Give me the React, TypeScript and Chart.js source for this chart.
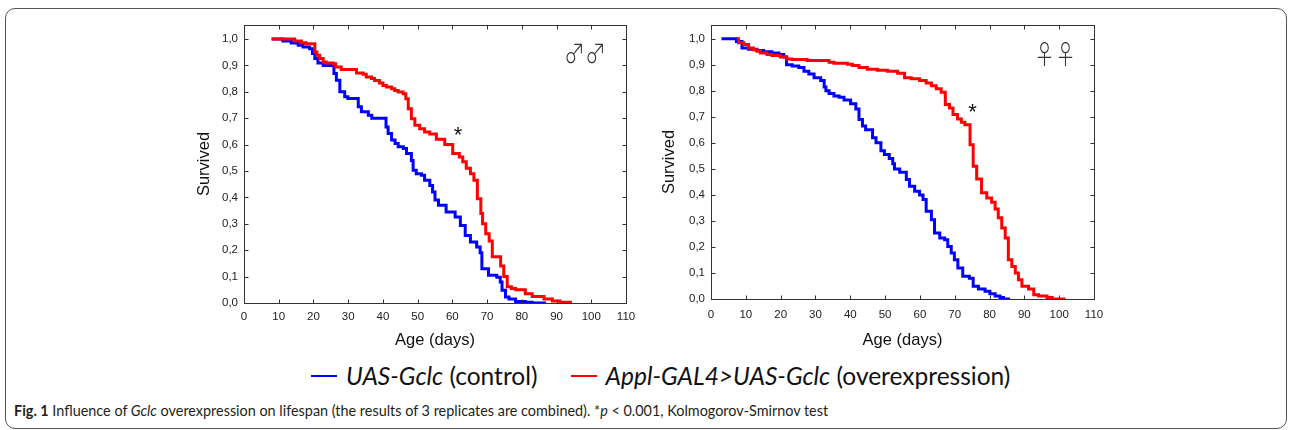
import React, { useEffect, useRef } from 'react';
import { Chart, registerables } from 'chart.js';

Chart.register(...registerables);

// ---------- data ----------
const X_MIN = 0;
const X_MAX = 110;
const X_STEP = 10;
const Y_MIN = 0;
const Y_MAX = 1.053;
const Y_STEP = 0.1;

const X_TITLE = 'Age (days)';
const Y_TITLE = 'Survived';
const SERIES_CONTROL = 'UAS-Gclc (control)';
const SERIES_OVER = 'Appl-GAL4>UAS-Gclc (overexpression)';

const MALE_SYMBOL = '\u2642\u2642';
const FEMALE_SYMBOL = '\u2640\u2640';

// males, control (blue)
const MALE_CONTROL_AGE = [8, 11.2, 13.6, 15.6, 17, 18.9, 19.7, 20.4, 21.3, 22.8, 25.9, 26.6, 27.6, 29, 29.9, 32.9, 33.8, 35.8, 36.8, 40.9, 41.5, 42.5, 43.5, 44.4, 45.9, 46.8, 48.2, 48.7, 49.6, 51.1, 52, 53.5, 54.3, 55, 56, 58.2, 60.8, 62.3, 63.7, 65.2, 67, 68, 68.5, 70.4, 72.8, 73.8, 74.3, 75.3, 76.3, 78.2, 81, 83, 87];
const MALE_CONTROL_SURV = [1.0, 0.992, 0.985, 0.976, 0.97, 0.963, 0.945, 0.926, 0.909, 0.9, 0.869, 0.844, 0.8, 0.781, 0.775, 0.743, 0.724, 0.711, 0.7, 0.667, 0.642, 0.617, 0.604, 0.592, 0.585, 0.566, 0.54, 0.503, 0.49, 0.484, 0.465, 0.445, 0.42, 0.39, 0.37, 0.345, 0.326, 0.294, 0.256, 0.231, 0.212, 0.19, 0.13, 0.105, 0.098, 0.08, 0.048, 0.023, 0.015, 0.006, 0.003, 0.0, 0.0];

// males, overexpression (red)
const MALE_OVER_AGE = [7.9, 14.6, 16.5, 17.9, 20.4, 21, 21.8, 22.8, 23.7, 25.7, 26.4, 28, 32.4, 34.3, 35.2, 36.7, 37.6, 39, 40, 41, 42.5, 43.4, 44.4, 45.8, 46.6, 47.3, 48.2, 49.2, 50.6, 52, 53.5, 55.4, 57.8, 60.1, 62, 63, 64, 65.2, 66.2, 67.2, 68.2, 68.7, 69.6, 70.6, 71.5, 73.9, 74.8, 75.8, 77, 78.2, 81, 83, 86.4, 88.8, 91, 94];
const MALE_OVER_SURV = [1.0, 0.992, 0.986, 0.982, 0.951, 0.938, 0.926, 0.913, 0.909, 0.906, 0.894, 0.884, 0.871, 0.866, 0.856, 0.85, 0.843, 0.833, 0.824, 0.818, 0.812, 0.805, 0.799, 0.793, 0.774, 0.736, 0.698, 0.673, 0.66, 0.648, 0.64, 0.62, 0.6, 0.566, 0.553, 0.535, 0.51, 0.49, 0.465, 0.395, 0.339, 0.3, 0.262, 0.235, 0.175, 0.14, 0.1, 0.062, 0.055, 0.05, 0.035, 0.025, 0.015, 0.008, 0.003, 0.0];

// females, control (blue)
const FEMALE_CONTROL_AGE = [3, 7.3, 8.9, 10.8, 13.2, 15.1, 17.5, 19.5, 20.9, 21.7, 23.3, 25.2, 26.7, 28.1, 29.6, 31.5, 32.5, 33, 33.9, 35.3, 36.8, 38.2, 40.1, 41.6, 42.5, 43.5, 44.4, 46.4, 47.4, 48.8, 49.8, 51.2, 52.2, 52.7, 54.2, 56.1, 57, 58.5, 59.9, 60.9, 61.8, 63.3, 64.2, 65.7, 67.1, 68, 69, 69.9, 70.9, 72.3, 74.2, 75.3, 76.8, 78.7, 80.1, 81.6, 83, 84, 85.9];
const FEMALE_CONTROL_SURV = [1.0, 0.99, 0.965, 0.96, 0.955, 0.95, 0.945, 0.94, 0.93, 0.9, 0.895, 0.89, 0.875, 0.865, 0.85, 0.84, 0.815, 0.8, 0.79, 0.78, 0.775, 0.765, 0.75, 0.73, 0.69, 0.665, 0.65, 0.62, 0.6, 0.57, 0.555, 0.54, 0.52, 0.5, 0.487, 0.459, 0.433, 0.414, 0.4, 0.382, 0.337, 0.305, 0.254, 0.234, 0.228, 0.202, 0.177, 0.151, 0.119, 0.087, 0.08, 0.049, 0.038, 0.03, 0.02, 0.012, 0.006, 0.0, 0.0];

// females, overexpression (red)
const FEMALE_OVER_AGE = [7.4, 7.9, 9.4, 10.8, 12.2, 13.2, 14.2, 16.1, 17.5, 19.9, 21.8, 23.3, 27.6, 33.9, 35.3, 39.2, 40.6, 42.5, 44.9, 47.8, 50.7, 53.6, 55.6, 57.5, 59.9, 61.8, 63.3, 64.7, 66.1, 67.3, 68.5, 69.5, 70.8, 71.9, 72.9, 74.4, 75.3, 76.3, 77.7, 79.2, 80.6, 81.6, 82.5, 83.5, 84.5, 85.4, 86.4, 87.4, 88.3, 89.3, 91.2, 92.7, 94.1, 96.5, 98, 101.8];
const FEMALE_OVER_SURV = [1.0, 0.985, 0.978, 0.965, 0.958, 0.952, 0.945, 0.94, 0.936, 0.93, 0.922, 0.92, 0.917, 0.91, 0.906, 0.902, 0.897, 0.89, 0.883, 0.879, 0.875, 0.868, 0.85, 0.846, 0.84, 0.83, 0.82, 0.808, 0.795, 0.747, 0.734, 0.709, 0.692, 0.679, 0.67, 0.593, 0.51, 0.461, 0.408, 0.388, 0.372, 0.346, 0.312, 0.273, 0.234, 0.151, 0.125, 0.1, 0.074, 0.049, 0.038, 0.016, 0.012, 0.006, 0.0, 0.0];

// annotation anchors in data units (age, survival)
const MALE_SYMBOL_AT = [98.2, 0.946];
const FEMALE_SYMBOL_AT = [98.8, 0.94];
const MALE_STAR_AT = [61.6, 0.631];
const FEMALE_STAR_AT = [75.1, 0.714];

const BLUE = '#0000ff';
const RED = '#ff0000';
const AXIS_FONT = '"Liberation Sans", Arial, sans-serif';

const toPoints = (ages: number[], surv: number[]) => ages.map((a, i) => ({ x: a, y: surv[i] }));

const framePlugin = {
  id: 'statFrame',
  afterDatasetsDraw(chart: any, _args: any, opts: any) {
    const { ctx, chartArea: a, scales } = chart;
    const xs = scales.x;
    const ys = scales.y;
    ctx.save();
    ctx.strokeStyle = '#333';
    ctx.lineWidth = 1;
    const L = Math.round(a.left) + 0.5;
    const T = Math.round(a.top) + 0.5;
    const R = Math.round(a.right) + 0.5;
    const B = Math.round(a.bottom) + 0.5;
    ctx.strokeRect(L, T, R - L, B - T);
    const tl = 4;
    ctx.beginPath();
    for (const t of xs.ticks) {
      const p = Math.round(xs.getPixelForValue(t.value)) + 0.5;
      ctx.moveTo(p, B);
      ctx.lineTo(p, B - tl);
      ctx.moveTo(p, T);
      ctx.lineTo(p, T + tl);
    }
    for (const t of ys.ticks) {
      const p = Math.round(ys.getPixelForValue(t.value)) + 0.5;
      ctx.moveTo(L, p);
      ctx.lineTo(L + tl, p);
      ctx.moveTo(R, p);
      ctx.lineTo(R - tl, p);
    }
    ctx.stroke();
    if (opts && opts.symbol) {
      ctx.save();
      ctx.translate(xs.getPixelForValue(opts.symbolAt[0]), ys.getPixelForValue(opts.symbolAt[1]));
      ctx.scale(1, 1.22);
      ctx.font = '300 21px "Noto Sans CJK JP", "DejaVu Sans"';
      ctx.fillStyle = '#333';
      ctx.textAlign = 'center';
      ctx.textBaseline = 'middle';
      ctx.fillText(opts.symbol, 0, 0);
      ctx.restore();
    }
    if (opts && opts.starAt) {
      ctx.font = '22px ' + AXIS_FONT;
      ctx.fillStyle = '#111';
      ctx.textAlign = 'center';
      ctx.textBaseline = 'middle';
      ctx.fillText('*', xs.getPixelForValue(opts.starAt[0]), ys.getPixelForValue(opts.starAt[1]));
    }
    ctx.restore();
  },
};

type PanelProps = {
  left: number;
  top: number;
  width: number;
  height: number;
  yAxisWidth: number;
  xAxisHeight: number;
  xTickPad: number;
  controlAge: number[];
  controlSurv: number[];
  overAge: number[];
  overSurv: number[];
  symbol: string;
  symbolAt: number[];
  starAt: number[];
};

function Panel(p: PanelProps) {
  const ref = useRef<HTMLCanvasElement>(null);
  useEffect(() => {
    if (!ref.current) return;
    const chart = new Chart(ref.current, {
      type: 'line',
      data: {
        datasets: [
          {
            label: SERIES_CONTROL,
            data: toPoints(p.controlAge, p.controlSurv),
            borderColor: BLUE,
            backgroundColor: BLUE,
            borderWidth: 3,
            pointRadius: 0,
            stepped: 'before',
            fill: false,
            order: 1,
          },
          {
            label: SERIES_OVER,
            data: toPoints(p.overAge, p.overSurv),
            borderColor: RED,
            backgroundColor: RED,
            borderWidth: 3,
            pointRadius: 0,
            stepped: 'before',
            fill: false,
            order: 0,
          },
        ],
      },
      options: {
        animation: false,
        responsive: false,
        maintainAspectRatio: false,
        devicePixelRatio: 1,
        layout: { padding: { top: 15, right: 10, left: 0, bottom: 0 } },
        plugins: {
          legend: { display: false },
          tooltip: { enabled: false },
          statFrame: { symbol: p.symbol, symbolAt: p.symbolAt, starAt: p.starAt },
        } as any,
        scales: {
          x: {
            type: 'linear',
            min: X_MIN,
            max: X_MAX,
            grid: { display: false, drawTicks: false },
            border: { display: false },
            ticks: {
              stepSize: X_STEP,
              autoSkip: false,
              maxRotation: 0,
              padding: p.xTickPad,
              color: '#222',
              font: { family: AXIS_FONT, size: 11.5 },
              callback: (v: any) => String(v),
            },
            title: {
              display: true,
              text: X_TITLE,
              color: '#111',
              font: { family: AXIS_FONT, size: 16.5 },
              padding: { top: 4, bottom: 4 },
            },
            afterFit: (s: any) => {
              s.height = p.xAxisHeight;
              s.paddingLeft = 0;
              s.paddingRight = 0;
            },
          },
          y: {
            type: 'linear',
            min: Y_MIN,
            max: Y_MAX,
            grid: { display: false, drawTicks: false },
            border: { display: false },
            ticks: {
              stepSize: Y_STEP,
              includeBounds: false,
              autoSkip: false,
              padding: 6,
              color: '#222',
              font: { family: AXIS_FONT, size: 11.5 },
              callback: (v: any) => Number(v).toFixed(1).replace('.', ','),
            },
            title: {
              display: true,
              text: Y_TITLE,
              color: '#111',
              font: { family: AXIS_FONT, size: 16.5 },
              padding: { top: 4, bottom: 4 },
            },
            afterFit: (s: any) => {
              s.width = p.yAxisWidth;
              s.paddingTop = 0;
              s.paddingBottom = 0;
            },
          },
        },
      } as any,
      plugins: [framePlugin],
    });
    return () => chart.destroy();
  }, []);
  return (
    <div style={{ position: 'absolute', left: p.left, top: p.top, width: p.width, height: p.height }}>
      <canvas ref={ref} width={p.width} height={p.height} style={{ display: 'block' }} />
    </div>
  );
}

function LegendItem({ color, italic, rest }: { color: string; italic: string; rest: string }) {
  return (
    <span style={{ display: 'inline-flex', alignItems: 'center' }}>
      <span style={{ display: 'inline-block', width: 26, height: 2, background: color, marginRight: 9 }} />
      <span>
        <i>{italic}</i>
        {rest}
      </span>
    </span>
  );
}

export default function App() {
  const [ctrlItalic, ctrlRest] = [SERIES_CONTROL.split(' ')[0], ' ' + SERIES_CONTROL.split(' ').slice(1).join(' ')];
  const [overItalic, overRest] = [SERIES_OVER.split(' ')[0], ' ' + SERIES_OVER.split(' ').slice(1).join(' ')];
  return (
    <div style={{ position: 'fixed', left: 0, top: 0, width: 1290, height: 430, background: '#fff', overflow: 'hidden' }}>
      <div
        style={{
          position: 'absolute',
          left: 5,
          top: 8,
          width: 1282,
          height: 421,
          boxSizing: 'border-box',
          border: '1.5px solid #555',
          borderRadius: 10,
        }}
      />
      <Panel
        left={191}
        top={10}
        width={445}
        height={344}
        yAxisWidth={53}
        xAxisHeight={51}
        xTickPad={7}
        controlAge={MALE_CONTROL_AGE}
        controlSurv={MALE_CONTROL_SURV}
        overAge={MALE_OVER_AGE}
        overSurv={MALE_OVER_SURV}
        symbol={MALE_SYMBOL}
        symbolAt={MALE_SYMBOL_AT}
        starAt={MALE_STAR_AT}
      />
      <Panel
        left={656}
        top={10}
        width={448}
        height={344}
        yAxisWidth={55}
        xAxisHeight={55}
        xTickPad={9}
        controlAge={FEMALE_CONTROL_AGE}
        controlSurv={FEMALE_CONTROL_SURV}
        overAge={FEMALE_OVER_AGE}
        overSurv={FEMALE_OVER_SURV}
        symbol={FEMALE_SYMBOL}
        symbolAt={FEMALE_SYMBOL_AT}
        starAt={FEMALE_STAR_AT}
      />
      <div
        style={{
          position: 'absolute',
          left: 311,
          top: 361,
          height: 30,
          lineHeight: '30px',
          display: 'flex',
          alignItems: 'center',
          fontFamily: 'Lato, "Open Sans", sans-serif',
          fontSize: 24.5,
          color: '#111',
          whiteSpace: 'nowrap',
        }}
      >
        <LegendItem color={BLUE} italic={ctrlItalic} rest={ctrlRest} />
        <span style={{ display: 'inline-block', width: 33 }} />
        <LegendItem color={RED} italic={overItalic} rest={overRest} />
      </div>
      <div
        style={{
          position: 'absolute',
          left: 14,
          top: 400,
          lineHeight: '20px',
          fontFamily: 'Lato, "Open Sans", sans-serif',
          fontSize: 16,
          color: '#231f20',
          whiteSpace: 'nowrap',
          transform: 'scaleX(0.9)',
          transformOrigin: 'left center',
        }}
      >
        <b>Fig. 1</b> Influence of <i>Gclc</i> overexpression on lifespan (the results of 3 replicates are combined). *<i>p</i> &lt; 0.001, Kolmogorov-Smirnov test
      </div>
    </div>
  );
}
